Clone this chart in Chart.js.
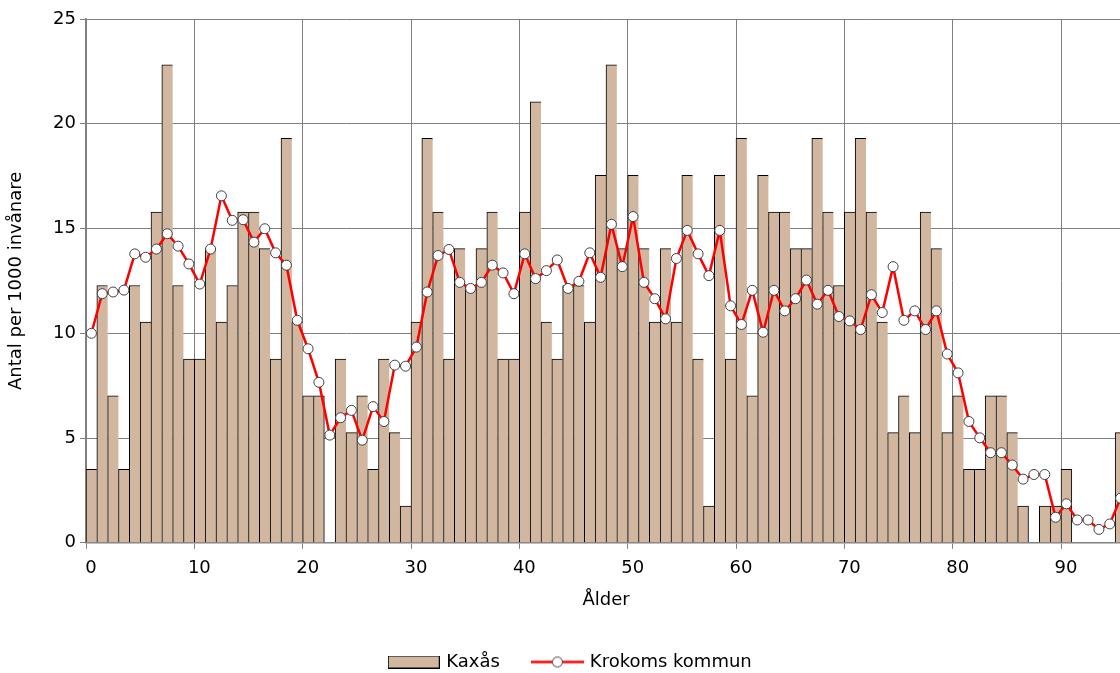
<!DOCTYPE html>
<html lang="sv">
<head>
<meta charset="utf-8">
<title>Kaxås – Krokoms kommun</title>
<script src="https://cdn.jsdelivr.net/npm/chart.js@4.4.1/dist/chart.umd.min.js"></script>
<style>
  html, body { margin: 0; padding: 0; background: #fff; overflow: hidden; }
  #wrap { position: relative; width: 1142px; height: 685px; }
</style>
</head>
<body>
<div id="wrap"><canvas id="ageChart"></canvas></div>
<script>
// Ålder 0-95
const ages = [
  0, 1, 2, 3, 4, 5, 6, 7, 8, 9,
  10, 11, 12, 13, 14, 15, 16, 17, 18, 19,
  20, 21, 22, 23, 24, 25, 26, 27, 28, 29,
  30, 31, 32, 33, 34, 35, 36, 37, 38, 39,
  40, 41, 42, 43, 44, 45, 46, 47, 48, 49,
  50, 51, 52, 53, 54, 55, 56, 57, 58, 59,
  60, 61, 62, 63, 64, 65, 66, 67, 68, 69,
  70, 71, 72, 73, 74, 75, 76, 77, 78, 79,
  80, 81, 82, 83, 84, 85, 86, 87, 88, 89,
  90, 91, 92, 93, 94, 95
];

// Kaxås, antal per 1000 invånare
const kaxas = [
  3.51, 12.28, 7.02, 3.51, 12.28, 10.53, 15.79, 22.81, 12.28, 8.77,
  8.77, 14.04, 10.53, 12.28, 15.79, 15.79, 14.04, 8.77, 19.30, 10.53,
  7.02, 7.02, 0, 8.77, 5.26, 7.02, 3.51, 8.77, 5.26, 1.75,
  10.53, 19.30, 15.79, 8.77, 14.04, 12.28, 14.04, 15.79, 8.77, 8.77,
  15.79, 21.05, 10.53, 8.77, 12.28, 12.28, 10.53, 17.54, 22.81, 14.04,
  17.54, 14.04, 10.53, 14.04, 10.53, 17.54, 8.77, 1.75, 17.54, 8.77,
  19.30, 7.02, 17.54, 15.79, 15.79, 14.04, 14.04, 19.30, 15.79, 12.28,
  15.79, 19.30, 15.79, 10.53, 5.26, 7.02, 5.26, 15.79, 14.04, 5.26,
  7.02, 3.51, 3.51, 7.02, 7.02, 5.26, 1.75, 0, 1.75, 1.75,
  3.51, 0, 0, 0, 0, 5.26
];

// Krokoms kommun, antal per 1000 invånare
const krokom = [
  10.0, 11.89, 11.97, 12.06, 13.79, 13.63, 14.02, 14.75, 14.16, 13.31,
  12.35, 14.02, 16.56, 15.39, 15.42, 14.35, 14.99, 13.84, 13.25, 10.62,
  9.26, 7.66, 5.14, 5.97, 6.32, 4.90, 6.50, 5.79, 8.48, 8.43,
  9.34, 11.97, 13.71, 14.0, 12.43, 12.14, 12.43, 13.25, 12.88, 11.89,
  13.79, 12.61, 12.99, 13.50, 12.14, 12.48, 13.84, 12.67, 15.2, 13.18,
  15.57, 12.43, 11.65, 10.69, 13.57, 14.91, 13.79, 12.75, 14.91, 11.31,
  10.42, 12.05, 10.05, 12.05, 11.07, 11.65, 12.54, 11.39, 12.05, 10.8,
  10.59, 10.18, 11.84, 10.99, 13.18, 10.62, 11.07, 10.18, 11.07, 9.01,
  8.11, 5.79, 5.01, 4.30, 4.30, 3.71, 3.04, 3.26, 3.26, 1.22,
  1.86, 1.09, 1.09, 0.64, 0.90, 2.13
];

const xTicks = [0, 10, 20, 30, 40, 50, 60, 70, 80, 90];
const yTicks = [0, 5, 10, 15, 20, 25];

const barColor = "#d2b7a0";
const lineColor = "#ff0000";
const gridColor = "#808080";
const fontFamily = "'DejaVu Sans', sans-serif";

// each age sits in the middle of its one-year slot
const barPoints = ages.map((a, i) => ({ x: a + 0.5, y: kaxas[i] }));
const linePoints = ages.map((a, i) => ({ x: a + 0.5, y: krokom[i] }));

// legend symbols
const makeBarSymbol = () => {
  const c = document.createElement("canvas");
  c.width = 52;
  c.height = 13;
  const g = c.getContext("2d");
  g.fillStyle = barColor;
  g.fillRect(0, 0, 52, 13);
  g.strokeStyle = "#000";
  g.lineWidth = 1;
  g.strokeRect(0.5, 0.5, 51, 12);
  return c;
};

const makeLineSymbol = () => {
  const c = document.createElement("canvas");
  c.width = 53;
  c.height = 13;
  const g = c.getContext("2d");
  g.strokeStyle = lineColor;
  g.lineWidth = 2.5;
  g.beginPath();
  g.moveTo(0, 6.5);
  g.lineTo(53, 6.5);
  g.stroke();
  g.beginPath();
  g.arc(26.5, 6.5, 5, 0, Math.PI * 2);
  g.fillStyle = "#fff";
  g.fill();
  g.strokeStyle = "#404040";
  g.lineWidth = 1;
  g.stroke();
  return c;
};

const legendSymbols = [makeBarSymbol(), makeLineSymbol()];

// the legend is centred on the whole canvas, not on the padded area
const legendShift = {
  id: "legendShift",
  afterLayout(chart) {
    chart.legend.left += 8;
    chart.legend.right += 8;
  },
};

const ctx = document.getElementById("ageChart").getContext("2d");

const ageChart = new Chart(ctx, {
  type: "bar",
  data: {
    datasets: [
      {
        type: "bar",
        label: "Kaxås",
        data: barPoints,
        backgroundColor: barColor,
        borderColor: "#000",
        borderWidth: (c) => {
          const next = kaxas[c.dataIndex + 1];
          return { top: 1, left: 1, right: next ? 0 : 1, bottom: 0 };
        },
        borderSkipped: false,
        barPercentage: 1,
        categoryPercentage: 1,
        order: 1,
      },
      {
        type: "line",
        label: "Krokoms kommun",
        data: linePoints,
        borderColor: lineColor,
        borderWidth: 2.5,
        pointRadius: 5,
        pointBackgroundColor: "#fff",
        pointBorderColor: "#404040",
        pointBorderWidth: 1,
        tension: 0,
        order: 0,
      },
    ],
  },
  options: {
    responsive: true,
    maintainAspectRatio: false,
    animation: false,
    layout: {
      padding: { top: 19, right: 16, left: 0, bottom: 4 },
    },
    scales: {
      x: {
        type: "linear",
        min: 0,
        max: 96,
        offset: false,
        afterBuildTicks: (scale) => {
          scale.ticks = xTicks.map((v) => ({ value: v }));
        },
        ticks: {
          color: "#000",
          font: { family: fontFamily, size: 18 },
          padding: 9,
          labelOffset: 5,
          maxRotation: 0,
          autoSkip: false,
        },
        grid: {
          offset: false,
          color: gridColor,
          lineWidth: 1,
          tickLength: 6,
          tickColor: gridColor,
        },
        border: { color: gridColor, width: 1.5 },
        title: {
          display: true,
          text: "Ålder",
          color: "#000",
          font: { family: fontFamily, size: 18 },
          padding: { top: 1, bottom: 8 },
        },
      },
      y: {
        min: 0,
        max: 25,
        afterBuildTicks: (scale) => {
          scale.ticks = yTicks.map((v) => ({ value: v }));
        },
        afterFit: (scale) => {
          scale.width = 86;
        },
        ticks: {
          color: "#000",
          font: { family: fontFamily, size: 18 },
          padding: 4,
        },
        grid: {
          color: gridColor,
          lineWidth: 1,
          tickLength: 6,
          tickColor: gridColor,
        },
        border: { color: gridColor, width: 1.5 },
        title: {
          display: true,
          text: "Antal per 1000 invånare",
          color: "#000",
          font: { family: fontFamily, size: 18 },
          padding: { top: 6, bottom: 0 },
        },
      },
    },
    plugins: {
      tooltip: { enabled: false },
      legend: {
        position: "bottom",
        labels: {
          color: "#000",
          font: { family: fontFamily, size: 18 },
          usePointStyle: true,
          pointStyleWidth: 47,
          boxHeight: 13,
          padding: 34,
          generateLabels: (chart) => {
            const items = Chart.defaults.plugins.legend.labels.generateLabels(chart);
            items.sort((a, b) => a.datasetIndex - b.datasetIndex);
            items.forEach((it) => {
              it.pointStyle = legendSymbols[it.datasetIndex];
            });
            return items;
          },
        },
      },
    },
  },
  plugins: [legendShift],
});
</script>
</body>
</html>
